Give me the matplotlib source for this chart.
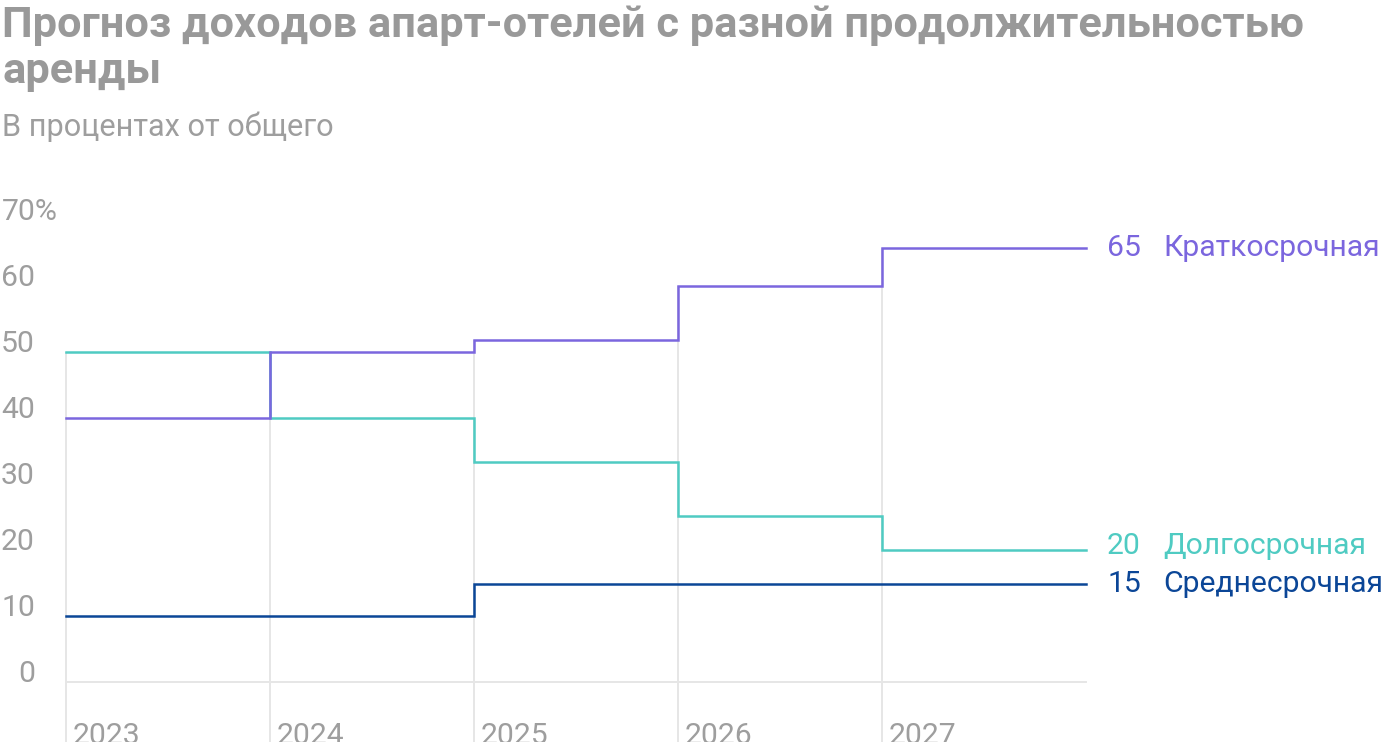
import matplotlib
matplotlib.use("Agg")
import matplotlib.pyplot as plt
from matplotlib.patches import Rectangle

plt.rcParams['font.family'] = ['Roboto', 'DejaVu Sans']

years = [2023, 2024, 2025, 2026, 2027]
series_names = ["Краткосрочная", "Долгосрочная", "Среднесрочная"]
short_term = [40, 50, 51.8, 60, 65.8]
long_term = [50, 40, 33.4, 25.2, 20]
mid_term = [10, 10, 14.8, 14.8, 14.8]
end_labels = ["65", "20", "15"]
colors = ["#7B66DE", "#4FCBC2", "#0B4697"]
yticks = [0, 10, 20, 30, 40, 50, 60, 70]

title_lines = ["Прогноз доходов апарт-отелей с разной продолжительностью", "аренды"]
subtitle = "В процентах от общего"

W, H = 1400, 752
fig = plt.figure(figsize=(W / 100, H / 100), dpi=100)
fig.patch.set_facecolor("white")
renderer = fig.canvas.get_renderer()


def fit(t, target_px):
    w = t.get_window_extent(renderer=renderer).width
    t.set_fontsize(t.get_fontsize() * target_px / w)
    return t.get_fontsize()


x0, x1 = 66, 1086
y0, y1 = 682, 220
ax = fig.add_axes([x0 / W, (H - y0) / H, (x1 - x0) / W, (y0 - y1) / H])
ax.set_xlim(years[0], years[-1] + 1)
ax.set_ylim(0, 70)
ax.axis("off")

grid_c = "#E6E6E6"
all_series = [short_term, long_term, mid_term]

for i, yr in enumerate(years):
    top = max(s[i] for s in all_series)
    ax.plot([yr, yr], [-15, top], color=grid_c, lw=1.4, clip_on=False, zorder=1,
            solid_capstyle="butt")
ax.plot([years[0], years[-1] + 1], [0, 0], color=grid_c, lw=1.4, zorder=1, clip_on=False)

xs = years + [years[-1] + 1]
for k, (s, c) in enumerate(zip(all_series, colors)):
    ax.step(xs, s + [s[-1]], where="post", color=c, lw=1.8, zorder=5 - k, clip_on=False,
            solid_joinstyle="miter")

tick_c = "#9E9E9E"
probe = fig.text(0, 0, "70%", fontsize=20)
fs = fit(probe, 56)
probe.remove()

for v in yticks:
    yd = ax.transData.transform((years[0], v))[1]
    yf = yd / fig.bbox.height
    if v == yticks[-1]:
        fig.text(2 / W, yf, f"{v}%", ha="left", va="baseline", fontsize=fs, color=tick_c)
    else:
        fig.text(35 / W, yf, f"{v}", ha="right", va="baseline", fontsize=fs, color=tick_c)

for yr in years:
    xd = ax.transData.transform((yr, 0))[0]
    fig.text((xd + 7) / W, 1 - 744 / H, str(yr), ha="left", va="baseline",
             fontsize=fs, color=tick_c)

probe = fig.text(0, 0, series_names[0], fontsize=20)
fs_lab = fit(probe, 217)
probe.remove()

offsets = [0, -4, 0]
for s, c, lab, name, off in zip(all_series, colors, end_labels, series_names, offsets):
    yd = ax.transData.transform((years[-1] + 1, s[-1]))[1] - off
    yf = yd / fig.bbox.height
    fig.text(1107 / W, yf, lab, ha="left", va="center", fontsize=fs_lab, color=c)
    fig.text(1163 / W, yf, name, ha="left", va="center", fontsize=fs_lab, color=c)

t1 = fig.text(2 / W, 1 - 37 / H, title_lines[0], ha="left", va="baseline", fontsize=30,
              fontweight="bold", color="#999999")
fs_t = fit(t1, 1300)
fig.text(2 / W, 1 - 83 / H, title_lines[1], ha="left", va="baseline", fontsize=fs_t,
         fontweight="bold", color="#999999")
st = fig.text(2 / W, 1 - 136 / H, subtitle, ha="left", va="baseline", fontsize=20,
              color="#9E9E9E")
fit(st, 332)

fig.patches.append(Rectangle((0, 0), 1, 10 / H, transform=fig.transFigure,
                             facecolor="white", edgecolor="none", zorder=10))

fig.savefig("out.png", dpi=100, facecolor="white")
